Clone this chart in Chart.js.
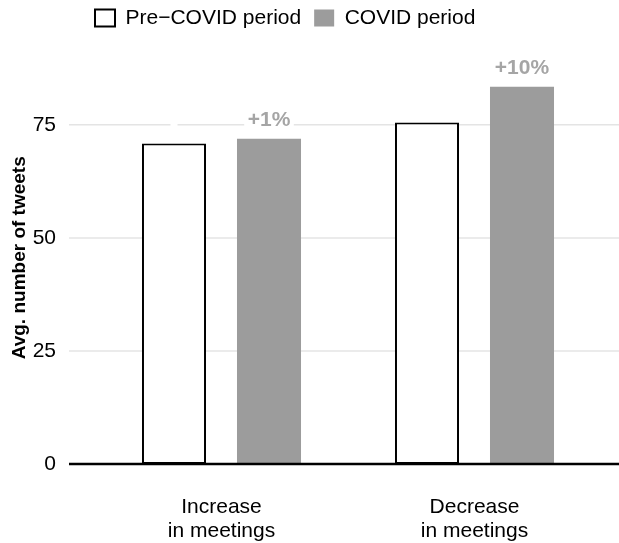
<!DOCTYPE html>
<html>
<head>
<meta charset="utf-8">
<script src="https://cdn.jsdelivr.net/npm/chart.js@4.4.1/dist/chart.umd.min.js"></script>
<style>
    html, body { margin: 0; padding: 0; background: #fff; }
    #caixa { width: 619px; height: 543px; position: relative; }
</style>
</head>
<body>
<div id="caixa"><canvas id="grafico"></canvas></div>
<script>
    // dados
    const categorias = [["Increase", "in meetings"], ["Decrease", "in meetings"]];
    const preCovid = [70.9, 75.5];
    const covid = [71.9, 83.4];
    const rotulosPre = ["", ""];
    const rotulosCovid = ["+1%", "+10%"];
    const ticksY = [0, 25, 50, 75];

    const cinzaBarra = "#9c9c9c";
    const cinzaTexto = "#a5a5a5";
    const fonte = "'Liberation Sans', Arial, sans-serif";

    Chart.defaults.color = "#000";
    Chart.defaults.font.family = fonte;

    // grade horizontal passando um pouco alem da area do grafico, como no original
    const pluginGrade = {
        id: "grade",
        afterLayout(chart) {
            // legenda alinhada com o eixo (x ~ 95) e mais perto do topo
            chart.legend.left = 82;
            chart.legend.top = chart.legend.top - 13;
        },
        beforeDatasetsDraw(chart) {
            const ctx = chart.ctx;
            const y = chart.scales.y;
            ctx.save();
            ctx.strokeStyle = "#e4e4e4";
            ctx.lineWidth = 1.5;
            ticksY.forEach(v => {
                if (v === 0) return;
                const py = y.getPixelForValue(v);
                ctx.beginPath();
                ctx.moveTo(69, py);
                ctx.lineTo(chart.width, py);
                ctx.stroke();
            });
            ctx.restore();
        },
        afterDatasetsDraw(chart) {
            const ctx = chart.ctx;
            const y = chart.scales.y;
            ctx.save();

            // rotulos em cima das barras (com fundo branco)
            ctx.font = "bold 21px " + fonte;
            ctx.textAlign = "center";
            ctx.textBaseline = "alphabetic";
            [rotulosPre, rotulosCovid].forEach((rotulos, i) => {
                chart.getDatasetMeta(i).data.forEach((barra, j) => {
                    const txt = rotulos[j];
                    const w = ctx.measureText(txt).width + 7;
                    const base = barra.y - 12.5;
                    ctx.fillStyle = "#fff";
                    ctx.fillRect(barra.x - w / 2, base - 19, w, 22);
                    ctx.fillStyle = cinzaTexto;
                    ctx.fillText(txt, barra.x, base);
                });
            });

            // linha do zero
            const p0 = y.getPixelForValue(0);
            ctx.strokeStyle = "#000";
            ctx.lineWidth = 2.5;
            ctx.beginPath();
            ctx.moveTo(69, p0);
            ctx.lineTo(chart.width, p0);
            ctx.stroke();
            ctx.restore();
        }
    };

    const ctx = document.getElementById("grafico").getContext("2d");

    const grafico = new Chart(ctx, {
        type: "bar",
        data: {
            labels: categorias,
            datasets: [
                {
                    label: "Pre\u2212COVID period",
                    data: preCovid,
                    backgroundColor: "#fff",
                    borderColor: "#000",
                    borderWidth: 2,
                    borderSkipped: false
                },
                {
                    label: "COVID period",
                    data: covid,
                    backgroundColor: cinzaBarra,
                    borderWidth: 0
                }
            ]
        },
        options: {
            responsive: true,
            maintainAspectRatio: false,
            animation: false,
            categoryPercentage: 0.751,
            barPercentage: 0.674,
            layout: {
                padding: { top: 0, right: 18, bottom: 0, left: 0 }
            },
            plugins: {
                legend: {
                    align: "start",
                    labels: {
                        boxWidth: 20,
                        boxHeight: 17,
                        padding: 13,
                        color: "#000",
                        font: { size: 21 }
                    }
                },
                tooltip: { enabled: false }
            },
            scales: {
                x: {
                    grid: { display: false, drawTicks: false },
                    border: { display: false },
                    ticks: {
                        padding: 31,
                        color: "#000",
                        font: { size: 21, lineHeight: 1.143 }
                    },
                    afterFit: (escala) => { escala.height = 79; }
                },
                y: {
                    min: 0,
                    max: 91.2,
                    grid: { display: false, drawTicks: false },
                    border: { display: false },
                    ticks: {
                        stepSize: 25,
                        padding: 39,
                        color: "#000",
                        font: { size: 21 }
                    },
                    afterBuildTicks: (escala) => {
                        escala.ticks = ticksY.map(v => ({ value: v }));
                    },
                    title: {
                        display: true,
                        text: "Avg. number of tweets",
                        color: "#000",
                        padding: { top: 8, bottom: 0 },
                        font: { size: 19, weight: "bold" }
                    },
                    afterFit: (escala) => { escala.width = 95; }
                }
            }
        },
        plugins: [pluginGrade]
    });
</script>
</body>
</html>
